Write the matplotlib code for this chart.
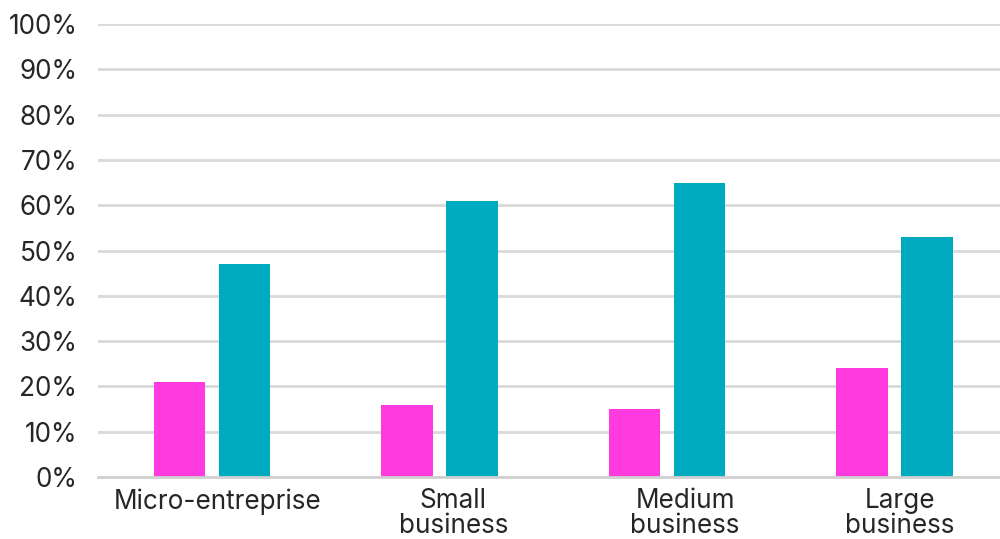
import matplotlib.pyplot as plt
import numpy as np

# company size groups and shares
kategorie = ["Micro-entreprise", "Small\nbusiness", "Medium\nbusiness", "Large\nbusiness"]
seria_a = [21, 16, 15, 24]
seria_b = [47, 61, 65, 53]
procenty = list(range(0, 101, 10))

plt.rcParams['font.family'] = ['Inter', 'DejaVu Sans']

fig = plt.figure(figsize=(10, 5.39), dpi=100)
ax = fig.add_axes([0.098, 0.115, 0.902, 0.8405])

x = np.arange(len(kategorie))
szer = 0.226
ax.bar(x - 0.143, seria_a, szer, color="#FF3BE0", zorder=3)
ax.bar(x + 0.143, seria_b, szer, color="#00AABF", zorder=3)

ax.set_xlim(-0.5, -0.5 + 902 / 227.6)
ax.set_ylim(0, 100)
ax.set_yticks(procenty)
ax.set_yticklabels([f"{p}%" for p in procenty])
ax.set_xticks(x)
ax.set_xticklabels([])

# group labels, nudged a little to the right
przesun = [4, 10, 13, 4]
for xi, nazwa, dx in zip(x, kategorie, przesun):
    ax.annotate(nazwa, xy=(xi, 0), xycoords=("data", "axes fraction"),
                xytext=(dx, -8), textcoords="offset points",
                ha="center", va="top", ma="center", linespacing=0.93,
                fontsize=18.8, color="#262626")

ax.grid(axis="y", color="#D9D9D9", linewidth=2, zorder=0)
for s in ["top", "right", "left"]:
    ax.spines[s].set_visible(False)
ax.spines["bottom"].set_color("#D0D0D0")
ax.spines["bottom"].set_linewidth(2)
ax.spines["bottom"].set_zorder(4)
ax.tick_params(axis="both", length=0, labelsize=18.8, colors="#262626")
ax.tick_params(axis="y", pad=15)

fig.savefig("out.png", dpi=100)
